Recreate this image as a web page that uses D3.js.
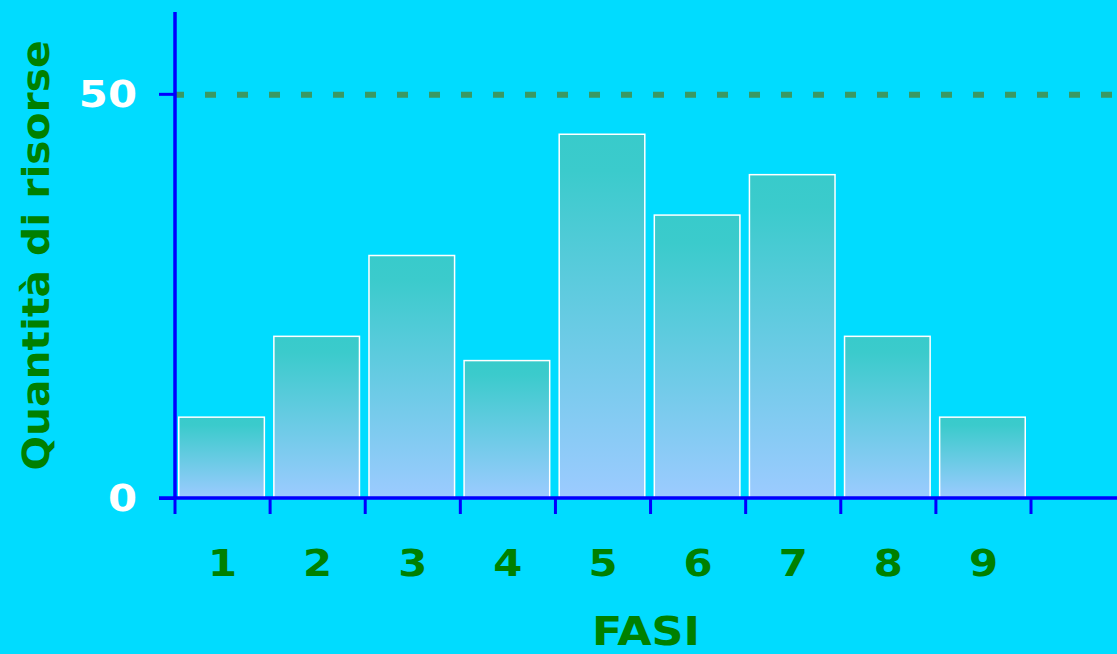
<!DOCTYPE html>
<html lang="it">
<head>
<meta charset="UTF-8">
<title>Quantità di risorse per fase</title>
<style>
  html, body { margin: 0; padding: 0; background: #00dcff; }
  svg { display: block; }
</style>
</head>
<body>
<div id="chart"></div>
<script src="https://cdn.jsdelivr.net/npm/d3@7"></script>
<script>
const fasi = ["1", "2", "3", "4", "5", "6", "7", "8", "9"];
const risorse = [10, 20, 30, 17, 45, 35, 40, 20, 10];
const yTicks = [0, 50];
const soglia = 50;

const width = 1117, height = 654;
const plotLeft = 175, plotBottom = 498, plotTop = 13, bandEnd = 1031;
const font = "'DejaVu Sans', Verdana, sans-serif";

const svg = d3.select("#chart")
    .append("svg")
    .attr("width", width)
    .attr("height", height)
    .style("background-color", "#00dcff");

// testo un po' più largo, come nel grafico originale
function stretch(sel, k) {
    sel.each(function () {
        const w = this.getComputedTextLength();
        d3.select(this)
            .attr("textLength", w * k)
            .attr("lengthAdjust", "spacingAndGlyphs");
    });
}

const grad = svg.append("defs")
    .append("linearGradient")
    .attr("id", "barGrad")
    .attr("x1", 0).attr("y1", 0)
    .attr("x2", 0).attr("y2", 1);
grad.append("stop").attr("offset", "0%").attr("stop-color", "#38cbcb");
grad.append("stop").attr("offset", "10%").attr("stop-color", "#3bcbcc");
grad.append("stop").attr("offset", "100%").attr("stop-color", "#9ccbff");

const x = d3.scaleBand()
    .domain(fasi)
    .range([plotLeft, bandEnd])
    .paddingInner(0.1)
    .paddingOuter(0.05);

const y = d3.scaleLinear()
    .domain([0, 60])
    .range([plotBottom, plotTop]);

// barre
svg.append("g")
    .selectAll("rect")
    .data(risorse)
    .join("rect")
        .attr("x", (d, i) => x(fasi[i]) - 1)
        .attr("y", d => y(d))
        .attr("width", x.bandwidth())
        .attr("height", d => y(0) - y(d))
        .attr("fill", "url(#barGrad)")
        .attr("stroke", "#ffffff")
        .attr("stroke-width", 1.5);

// linea tratteggiata a 50
svg.append("line")
    .attr("x1", plotLeft).attr("x2", width)
    .attr("y1", y(soglia) + 1).attr("y2", y(soglia) + 1)
    .attr("stroke", "#3a9963")
    .attr("stroke-width", 6)
    .attr("stroke-dasharray", "11,21")
    .attr("stroke-dashoffset", 2);

// asse y
const yAxis = svg.append("g")
    .attr("transform", `translate(${plotLeft},0)`)
    .call(d3.axisLeft(y).tickValues(yTicks).tickSize(16).tickPadding(22).tickSizeOuter(0));
yAxis.select(".domain").remove();
yAxis.append("line")
    .attr("x1", 0).attr("x2", 0)
    .attr("y1", plotTop - 1).attr("y2", plotBottom)
    .attr("stroke", "#0000ff")
    .attr("stroke-width", 3.5);
yAxis.selectAll(".tick line").attr("stroke", "#0000ff").attr("stroke-width", 3);
yAxis.selectAll(".tick text")
    .attr("fill", "#ffffff")
    .style("font-family", font)
    .style("font-weight", "bold")
    .style("font-size", "38px")
    .call(stretch, 1.1);

// asse x
const bounds = fasi.map(f => x(f) - x.step() * x.paddingInner() / 2);
bounds.push(bounds[bounds.length - 1] + x.step());
const xAxis = svg.append("g");
xAxis.append("line")
    .attr("x1", plotLeft - 16).attr("x2", width)
    .attr("y1", plotBottom).attr("y2", plotBottom)
    .attr("stroke", "#0000ff")
    .attr("stroke-width", 3.5);
xAxis.selectAll("line.tk")
    .data(bounds)
    .join("line")
        .attr("class", "tk")
        .attr("x1", d => d).attr("x2", d => d)
        .attr("y1", plotBottom).attr("y2", plotBottom + 16)
        .attr("stroke", "#0000ff")
        .attr("stroke-width", 3);
xAxis.selectAll("text")
    .data(fasi)
    .join("text")
        .attr("x", d => x(d) + x.bandwidth() / 2)
        .attr("y", 576)
        .attr("text-anchor", "middle")
        .attr("fill", "#008000")
        .style("font-family", font)
        .style("font-weight", "bold")
        .style("font-size", "38px")
        .text(d => d)
        .call(stretch, 1.1);

// titoli assi
svg.append("text")
    .attr("x", (plotLeft + width) / 2)
    .attr("y", 645)
    .attr("text-anchor", "middle")
    .attr("fill", "#008000")
    .style("font-family", font)
    .style("font-weight", "bold")
    .style("font-size", "39px")
    .text("FASI")
    .attr("textLength", 108)
    .attr("lengthAdjust", "spacingAndGlyphs");

svg.append("text")
    .attr("transform", `translate(49,${(plotTop + plotBottom) / 2}) rotate(-90)`)
    .attr("text-anchor", "middle")
    .attr("fill", "#008000")
    .style("font-family", font)
    .style("font-weight", "bold")
    .style("font-size", "38px")
    .text("Quantità di risorse")
    .attr("textLength", 430)
    .attr("lengthAdjust", "spacingAndGlyphs");
</script>
</body>
</html>
